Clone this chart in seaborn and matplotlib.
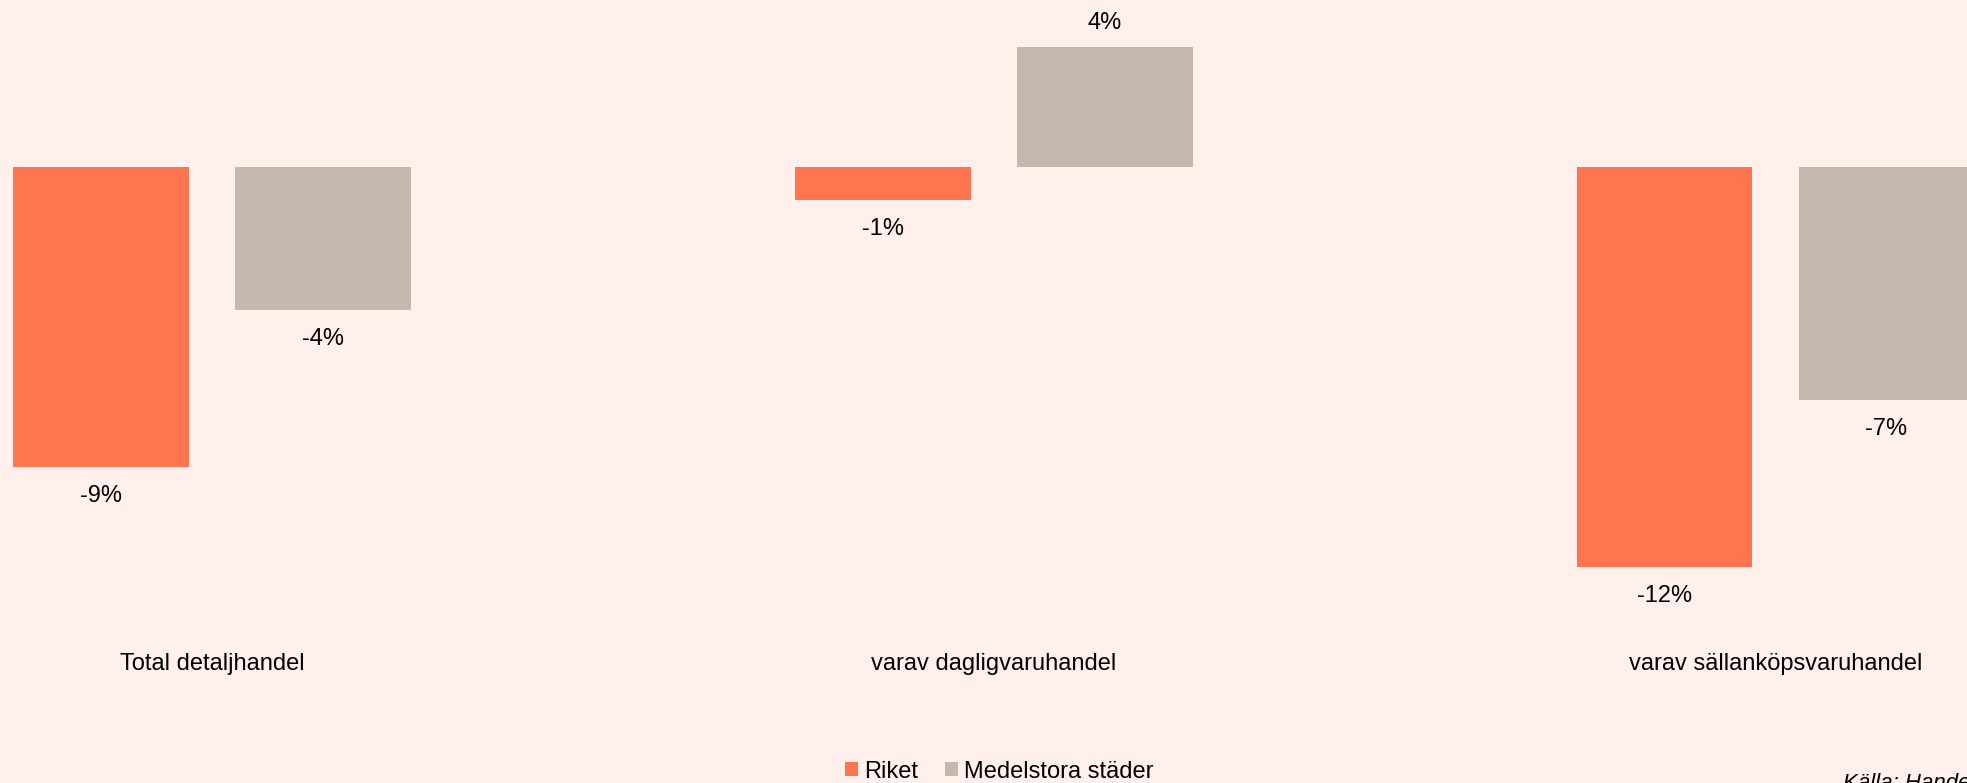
import matplotlib
matplotlib.use("Agg")
import matplotlib.pyplot as plt
from matplotlib.patches import Patch
import pandas
import seaborn

# values (percent change)
kategorier = ["Total detaljhandel", "varav dagligvaruhandel", "varav sällanköpsvaruhandel"]
riket = [-9.0, -1.0, -12.0]
medelstora = [-4.3, 3.6, -7.0]
serier = ["Riket", "Medelstora städer"]

bg = "#FFF0EB"
farger = ["#FF7550", "#C6B8AE"]

seaborn.set_style("white")
plt.rcParams["font.family"] = ["Liberation Sans", "DejaVu Sans"]
plt.rcParams["text.color"] = "black"
plt.rcParams["xtick.color"] = "black"

df = pandas.DataFrame({
    "kategori": kategorier * 2,
    "varde": riket + medelstora,
    "serie": [serier[0]] * 3 + [serier[1]] * 3,
})

W, H = 1967, 783
fig = plt.figure(figsize=(W / 100, H / 100), dpi=100, facecolor=bg)
ax = fig.add_axes([0, (H - 620) / H, 1, 620 / H])
ax.set_facecolor(bg)

seaborn.barplot(
    data=df, x="kategori", y="varde", hue="serie",
    palette=farger, saturation=1, width=0.568, gap=0.208,
    linewidth=0, legend=False, ax=ax
)

for cont in ax.containers:
    vals = cont.datavalues
    # negative labels sit a bit further from the bar end than positive ones
    ax.bar_label(cont, labels=[f"{v:.0f}%" if v < 0 else "" for v in vals],
                 padding=13, fontsize=17, color="black")
    ax.bar_label(cont, labels=[f"{v:.0f}%" if v >= 0 else "" for v in vals],
                 padding=9, fontsize=17, color="black")

ax.set_xlim(-0.271, 2.245)
ax.set_ylim(-13.6, 5.0)
ax.set_xlabel("")
ax.set_ylabel("")
ax.set_yticks([])
ax.tick_params(axis="x", length=0, pad=24, labelsize=17, labelcolor="black")
for s in ax.spines.values():
    s.set_visible(False)

handles = [Patch(facecolor=c, edgecolor="none") for c in farger]
fig.legend(
    handles, serier, loc="center", bbox_to_anchor=(999.5 / W, 11.3 / H),
    ncol=2, frameon=False, fontsize=17, handlelength=0.55, handleheight=0.55,
    handletextpad=0.25, columnspacing=1.14, borderpad=0, borderaxespad=0,
    labelcolor="black"
)

fig.text(1843 / W, -6 / H, "Källa: Handelns Utredningsinstitut", fontsize=16,
         style="italic", va="baseline", ha="left", color="black")

fig.savefig("out.png", dpi=100, facecolor=bg)
